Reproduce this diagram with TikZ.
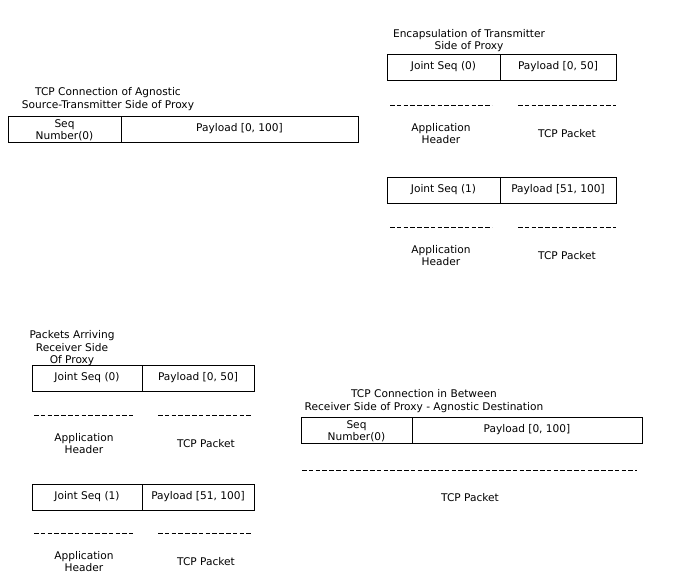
\documentclass[tikz,border=0pt]{standalone}
\usepackage{fontspec}
\setmainfont{DejaVu Sans}
\begin{document}
\begin{tikzpicture}[x=1pt,y=-1pt,
  every node/.style={font=\fontsize{10.6}{12.5}\selectfont, inner sep=0pt, outer sep=0pt},
  cell/.style={draw=black, line width=1pt, anchor=north west, minimum height=26pt, align=center},
  lbl/.style={align=center, yshift=-1.5pt},
  sep/.style={line width=1pt, dash pattern=on 4.5pt off 2.3pt}
]
\useasboundingbox (0,0) rectangle (676,582);

% ---------- Block 1: TCP connection (source side)
\node[lbl] (t1) at (108,97.5) {TCP Connection of Agnostic\\Source-Transmitter Side of Proxy};
\node[cell, minimum width=113pt, text height=23pt] (s1a) at (8,116) {\fontsize{10.6}{12}\selectfont Seq\\Number(0)};
\node[cell, minimum width=237pt] (s1b) at (121,116) {Payload [0, 100]};

% ---------- Block 2: Encapsulation, packet 0
\node[lbl] (t2) at (469,39) {Encapsulation of Transmitter\\Side of Proxy};
\node[cell, minimum width=113pt] (e0a) at (387,54) {Joint Seq (0)};
\node[cell, minimum width=116pt] (e0b) at (500,54) {Payload [0, 50]};
\draw[sep] (390,105) -- (492,105);
\draw[sep] (518,105) -- (616,105);
\node[lbl] (e0h) at (441,132) {Application\\Header};
\node[lbl] (e0p) at (567,132) {TCP Packet};

% ---------- Block 3: Encapsulation, packet 1
\node[cell, minimum width=113pt] (e1a) at (387,177) {Joint Seq (1)};
\node[cell, minimum width=116pt] (e1b) at (500,177) {Payload [51, 100]};
\draw[sep] (390,227) -- (492,227);
\draw[sep] (518,227) -- (616,227);
\node[lbl] (e1h) at (441,254) {Application\\Header};
\node[lbl] (e1p) at (567,254) {TCP Packet};

% ---------- Block 4: Packets arriving, packet 0
\node[lbl] (t3) at (72,347) {Packets Arriving\\Receiver Side\\Of Proxy};
\node[cell, minimum width=110pt] (r0a) at (32,365) {Joint Seq (0)};
\node[cell, minimum width=112pt] (r0b) at (142,365) {Payload [0, 50]};
\draw[sep] (34,415) -- (133,415);
\draw[sep] (158,415) -- (253,415);
\node[lbl] (r0h) at (84,442) {Application\\Header};
\node[lbl] (r0p) at (206,442) {TCP Packet};

% ---------- Block 5: Packets arriving, packet 1
\node[cell, minimum width=110pt] (r1a) at (32,484) {Joint Seq (1)};
\node[cell, minimum width=112pt] (r1b) at (142,484) {Payload [51, 100]};
\draw[sep] (34,533) -- (133,533);
\draw[sep] (158,533) -- (253,533);
\node[lbl] (r1h) at (84,560) {Application\\Header};
\node[lbl] (r1p) at (206,560) {TCP Packet};

% ---------- Block 6: TCP connection (destination side)
\node[lbl] (t4) at (424,399.5) {TCP Connection in Between\\Receiver Side of Proxy - Agnostic Destination};
\node[cell, minimum width=111pt, text height=23pt] (d1a) at (301,417) {\fontsize{10.6}{12}\selectfont Seq\\Number(0)};
\node[cell, minimum width=230pt] (d1b) at (412,417) {Payload [0, 100]};
\draw[sep] (302,470) -- (637,470);
\node[lbl] (d1p) at (470,496) {TCP Packet};
\end{tikzpicture}
\end{document}
